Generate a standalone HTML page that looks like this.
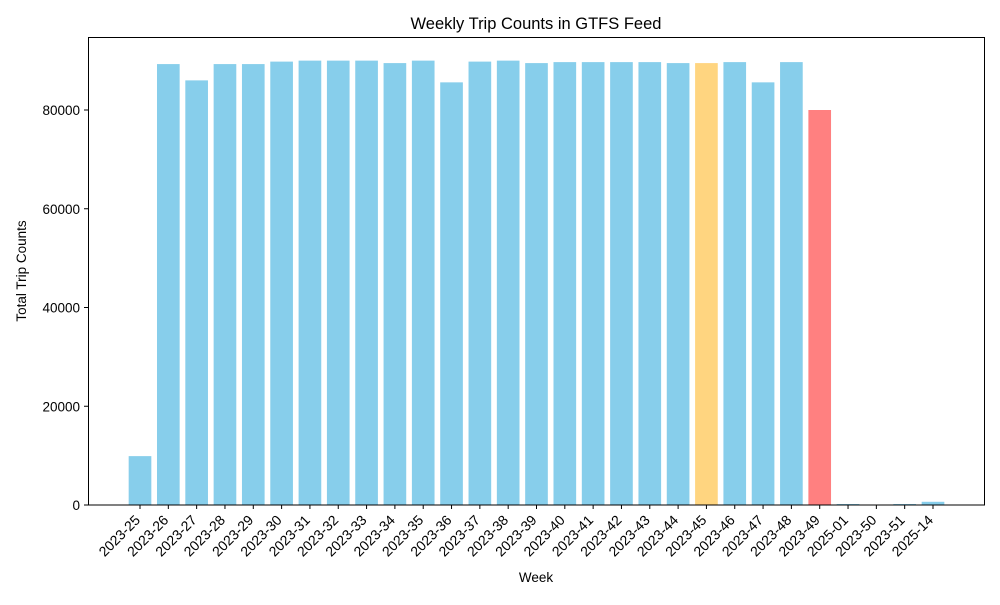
<!DOCTYPE html>
<html><head><meta charset="utf-8"><style>
body{margin:0;background:#fff;font-family:"Liberation Sans",sans-serif}
</style></head><body>
<svg id="chart" width="1000" height="600" xmlns="http://www.w3.org/2000/svg" font-family="Liberation Sans, sans-serif">
<text x="536" y="29" text-anchor="middle" font-size="16.5">Weekly Trip Counts in GTFS Feed</text>
<text x="536" y="582" text-anchor="middle" font-size="13.5">Week</text>
<text transform="translate(26,271) rotate(-90)" text-anchor="middle" font-size="13.5">Total Trip Counts</text>
<g id="bars"></g><g id="xt"></g><g id="yt"></g>
<rect x="88.5" y="37.5" width="896" height="467.5" fill="none" stroke="#000" stroke-width="1"/>
</svg>
<script>
const categories=["2023-25","2023-26","2023-27","2023-28","2023-29","2023-30","2023-31","2023-32","2023-33","2023-34","2023-35","2023-36","2023-37","2023-38","2023-39","2023-40","2023-41","2023-42","2023-43","2023-44","2023-45","2023-46","2023-47","2023-48","2023-49","2025-01","2023-50","2023-51","2025-14"];
const tripCounts=[9900,89300,86000,89300,89300,89800,90000,90000,90000,89500,90000,85600,89800,90000,89500,89700,89700,89700,89700,89500,89500,89700,85600,89700,80000,200,40,200,650];
const highlight={"2023-45":"#FFD580","2023-49":"#FF8080"};
const yTicks=[0,20000,40000,60000,80000];
const NS="http://www.w3.org/2000/svg";
const x0=140,step=(933-140)/28,bw=step*0.8;
const xs=i=>x0+i*step;
const ys=v=>505-v*(395/80000);
const bars=document.getElementById('bars'),xt=document.getElementById('xt'),yt=document.getElementById('yt');
categories.forEach((c,i)=>{
 const r=document.createElementNS(NS,'rect');
 
 
 r.setAttribute('x',xs(i)-bw/2);r.setAttribute('width',bw);
 r.setAttribute('y',ys(tripCounts[i]));r.setAttribute('height',505-ys(tripCounts[i]));
 r.setAttribute('fill',highlight[c]||'#87CEEB');
 bars.appendChild(r);
 const l=document.createElementNS(NS,'line');
 
 
 l.setAttribute('x1',xs(i));l.setAttribute('x2',xs(i));l.setAttribute('y1',505);l.setAttribute('y2',509);l.setAttribute('stroke','#000');
 xt.appendChild(l);
 const t=document.createElementNS(NS,'text');
 
 
 t.setAttribute('transform',`translate(${xs(i)+1},${521}) rotate(-45)`);
 t.setAttribute('text-anchor','end');t.setAttribute('font-size','14');
 t.textContent=c;xt.appendChild(t);
});
yTicks.forEach(v=>{
 const l=document.createElementNS(NS,'line');
 
 
 l.setAttribute('x1',84);l.setAttribute('x2',88);l.setAttribute('y1',ys(v));l.setAttribute('y2',ys(v));l.setAttribute('stroke','#000');
 yt.appendChild(l);
 const t=document.createElementNS(NS,'text');
 
 
 t.setAttribute('x',80);t.setAttribute('y',ys(v)+5);t.setAttribute('text-anchor','end');t.setAttribute('font-size','13.5');
 t.textContent=v;yt.appendChild(t);
});
</script>
</body></html>
